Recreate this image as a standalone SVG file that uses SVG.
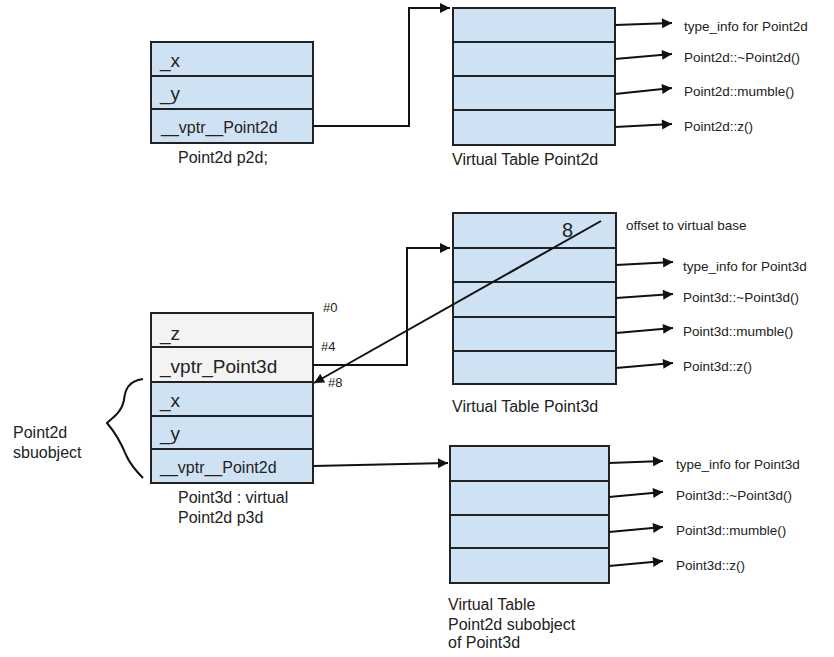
<svg xmlns="http://www.w3.org/2000/svg" width="834" height="657" viewBox="0 0 834 657">
<style>
  text { font-family: "Liberation Sans", Arial, sans-serif; fill: #222; }
  .cell { fill: #cfe2f3; stroke: #222; stroke-width: 2; }
  .gcell { fill: #f3f3f3; stroke: #222; stroke-width: 2; }
  .con { fill: none; stroke: #111; stroke-width: 2; }
  .lbl { font-size: 16px; }
  .big { font-size: 19px; }
  .fn { font-size: 13.5px; }
  .sm { font-size: 13px; }
</style>
<defs>
  <marker id="ah" viewBox="0 0 10 10" refX="10" refY="5" markerWidth="6.5" markerHeight="5" markerUnits="strokeWidth" orient="auto">
    <path d="M0,0 L10,5 L0,10 z" fill="#111"/>
  </marker>
</defs>
<rect width="834" height="657" fill="#fff"/>

<g id="p2d">
  <rect class="cell" x="151" y="42" width="162" height="34"/>
  <rect class="cell" x="151" y="76" width="162" height="33"/>
  <rect class="cell" x="151" y="109" width="162" height="34"/>
  <text class="big" x="160" y="67">_x</text>
  <text class="big" x="160" y="100">_y</text>
  <text class="lbl" x="161" y="133">__vptr__Point2d</text>
  <text class="lbl" x="178" y="163">Point2d p2d;</text>
</g>

<g id="vtbl2d">
  <rect class="cell" x="453" y="8" width="162" height="34"/>
  <rect class="cell" x="453" y="42" width="162" height="34"/>
  <rect class="cell" x="453" y="76" width="162" height="34"/>
  <rect class="cell" x="453" y="110" width="162" height="35"/>
  <text class="lbl" x="452" y="165">Virtual Table Point2d</text>
  <text class="fn" x="684" y="31">type_info for Point2d</text>
  <text class="fn" x="684" y="62">Point2d::~Point2d()</text>
  <text class="fn" x="684" y="96">Point2d::mumble()</text>
  <text class="fn" x="684" y="131">Point2d::z()</text>
</g>

<g id="p3d">
  <rect class="gcell" x="151" y="313" width="162" height="34"/>
  <rect class="gcell" x="151" y="347" width="162" height="35"/>
  <rect class="cell" x="151" y="382" width="162" height="34"/>
  <rect class="cell" x="151" y="416" width="162" height="33"/>
  <rect class="cell" x="151" y="449" width="162" height="34"/>
  <text class="big" x="160" y="340">_z</text>
  <text class="big" x="160" y="373">_vptr_Point3d</text>
  <text class="big" x="160" y="407">_x</text>
  <text class="big" x="160" y="440">_y</text>
  <text class="lbl" x="160" y="473">__vptr__Point2d</text>
  <text class="lbl" x="178" y="503">Point3d : virtual</text>
  <text class="lbl" x="178" y="523">Point2d p3d</text>
  <text class="sm" x="323" y="312">#0</text>
  <text class="sm" x="321" y="351">#4</text>
  <text class="sm" x="328" y="387">#8</text>
</g>

<g id="subobject">
  <path class="con" stroke-width="1.5" d="M143,379 C128,381 125,390 124,400 C122,412 112,418 107,423 C113,430 120,440 126,455 C131,466 137,472 143,478"/>
  <text class="lbl" x="13" y="438">Point2d</text>
  <text class="lbl" x="13" y="458">sbuobject</text>
</g>

<g id="vtbl3d">
  <rect class="cell" x="453" y="213" width="163" height="35"/>
  <rect class="cell" x="453" y="248" width="163" height="34"/>
  <rect class="cell" x="453" y="282" width="163" height="35"/>
  <rect class="cell" x="453" y="317" width="163" height="34"/>
  <rect class="cell" x="453" y="351" width="163" height="33"/>
  <text x="562" y="237" style="font-size:20px">8</text>
  <text class="fn" x="626" y="230">offset to virtual base</text>
  <text class="fn" x="683" y="271">type_info for Point3d</text>
  <text class="fn" x="683" y="302">Point3d::~Point3d()</text>
  <text class="fn" x="683" y="336">Point3d::mumble()</text>
  <text class="fn" x="683" y="371">Point3d::z()</text>
  <text class="lbl" x="452" y="412">Virtual Table Point3d</text>
</g>

<g id="vtbl2d_in_3d">
  <rect class="cell" x="450" y="446" width="159" height="35"/>
  <rect class="cell" x="450" y="481" width="159" height="34"/>
  <rect class="cell" x="450" y="515" width="159" height="33"/>
  <rect class="cell" x="450" y="548" width="159" height="35"/>
  <text class="fn" x="676" y="469">type_info for Point3d</text>
  <text class="fn" x="676" y="500">Point3d::~Point3d()</text>
  <text class="fn" x="676" y="535">Point3d::mumble()</text>
  <text class="fn" x="676" y="570">Point3d::z()</text>
  <text class="lbl" x="448" y="610">Virtual Table</text>
  <text class="lbl" x="448" y="630">Point2d subobject</text>
  <text class="lbl" x="448" y="648">of Point3d</text>
</g>

<g id="connectors">
  <path class="con" d="M313,126 H409 V8 H450" marker-end="url(#ah)"/>
  <path class="con" d="M615,25 L672,23" marker-end="url(#ah)"/>
  <path class="con" d="M615,59 L672,54" marker-end="url(#ah)"/>
  <path class="con" d="M615,94 L672,88" marker-end="url(#ah)"/>
  <path class="con" d="M615,127 L672,124" marker-end="url(#ah)"/>

  <path class="con" d="M313,365 H407 V248 H450" marker-end="url(#ah)"/>
  <path class="con" d="M601,221 L314,383" marker-end="url(#ah)"/>
  <path class="con" d="M616,265 L673,262" marker-end="url(#ah)"/>
  <path class="con" d="M616,298 L673,294" marker-end="url(#ah)"/>
  <path class="con" d="M616,333 L673,328" marker-end="url(#ah)"/>
  <path class="con" d="M616,368 L673,363" marker-end="url(#ah)"/>

  <path class="con" d="M313,466 L448,463" marker-end="url(#ah)"/>
  <path class="con" d="M609,463 L663,461" marker-end="url(#ah)"/>
  <path class="con" d="M609,497 L663,492" marker-end="url(#ah)"/>
  <path class="con" d="M609,532 L663,527" marker-end="url(#ah)"/>
  <path class="con" d="M609,566 L663,561" marker-end="url(#ah)"/>
</g>
</svg>
